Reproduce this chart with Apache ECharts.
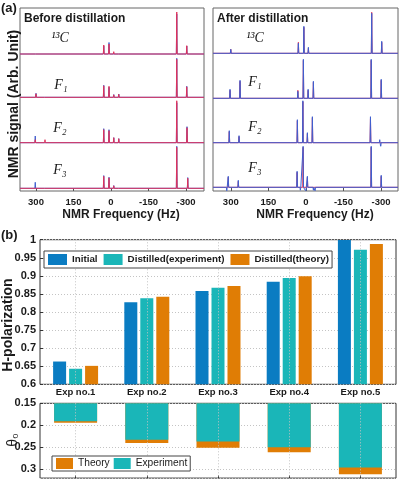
<!DOCTYPE html>
<html><head><meta charset="utf-8">
<script src="https://cdn.jsdelivr.net/npm/echarts@6/dist/echarts.min.js"></script>
<style>html,body{margin:0;padding:0;background:#fff}#c{width:399px;height:479px}</style>
</head><body><div id="c"></div>
<script>
// ================= DATA =================
const freqTicks = [300, 150, 0, -150, -300];
const spectrumLabels = ['¹³C', 'F₁', 'F₂', 'F₃'];

// Before distillation: peak frequencies (Hz), experiment heights, theory heights
const bC_freq = [300, 29, 8, -11, -31, -263, -303];
const bC_exp  = [2, 8, 11.5, 2, 1.5, 40, 8];
const bC_th   = [2, 9, 10, 2.3, 1.7, 42, 8.3];
const bF1_freq = [300, 264, 29, 8, -11, -31, -263, -303];
const bF1_exp  = [4, 1.7, 12, 10, 2.7, 3.3, 39, 11];
const bF1_th   = [3.5, 1.2, 11.5, 11, 2.5, 3, 38, 10.5];
const bF2_freq = [303, 264, 29, 8, -11, -31, -263, -304];
const bF2_exp  = [6.7, 2, 14, 13, 5, 4, 40, 16];
const bF2_th   = [3, 3, 13, 12, 5, 4, 42, 15];
const bF3_freq = [303, 264, 29, 8, -11, -31, -263, -307];
const bF3_exp  = [6, 1, 12.7, 11, 2.7, 0.5, 42, 10.7];
const bF3_th   = [2, 1.7, 12, 10.5, 2.5, 0.5, 41, 10];

// After distillation
const aC_freq = [300, 30, 8, -10, -30, -263, -303];
const aC_exp  = [4, 10, 27, 6, -2, 40, 12];
const aC_th   = [4, 11, 26, 5, 0, 41, 11];
const aF1_freq = [303, 263, 32, 10, -9, -30, -261, -301];
const aF1_exp  = [9, 18, 7, 39, 9, 17, 39, 19];
const aF1_th   = [8, 17, 8, 38, 8, 16, 38, 18];
const aF2_freq = [306, 267, 34, 12, -6, -26, -258, -295, -299];
const aF2_exp  = [12, 7, 23, 42, 10, 26, 26, 3, -5];
const aF2_th   = [11, 6, 22, 41, 9, 25, 24, 0, 0];
const aF3_freq = [316, 310, 270, 35, 22, 11, 0, -6, -30, -37, -261, -301];
const aF3_exp  = [-4, 11, 7, 16, -3, 41, -4, 11, -3, -4, 41, 12];
const aF3_th   = [0, 10, 6, 15, 0, 40, 0, 10, 0, 0, 40, 11];

// Panel (b)
const expNames = ['Exp no.1', 'Exp no.2', 'Exp no.3', 'Exp no.4', 'Exp no.5'];
const initialPol = [0.663, 0.827, 0.858, 0.884, 0.999];
const distExpPol = [0.643, 0.838, 0.867, 0.894, 0.972];
const distThPol  = [0.651, 0.842, 0.872, 0.899, 0.988];
const thetaTheory = [0.194, 0.240, 0.251, 0.261, 0.311];
const thetaExp    = [0.191, 0.2326, 0.237, 0.250, 0.296];

// ================= STYLE / LAYOUT =================
const FONT = '"Liberation Sans", Arial, Helvetica, sans-serif';
const SERIF = '"Liberation Serif", "DejaVu Serif", serif';
const BLUE = '#0a7cc2', TEAL = '#1ab6b8', ORANGE = '#e07d05';
const RED_LINE = '#e0325a', BLUE_LINE = '#3f5fcf';
const TXT = '#1a1a1a';
const GRIDLINE = { color: '#c4c4c4', type: [1, 2], width: 1 };

const boxes = [
  { left: 20, width: 184, top: 8, height: 183, fMin: -372, fMax: 364,
    baselines: [54, 97.3, 142.7, 188.3],
    spectra: [[bC_freq, bC_exp, bC_th], [bF1_freq, bF1_exp, bF1_th], [bF2_freq, bF2_exp, bF2_th], [bF3_freq, bF3_exp, bF3_th]],
    redOnTop: true },
  { left: 213, width: 185, top: 8, height: 183, fMin: -368, fMax: 371,
    baselines: [53.3, 98.3, 142.7, 187.3],
    spectra: [[aC_freq, aC_exp, aC_th], [aF1_freq, aF1_exp, aF1_th], [aF2_freq, aF2_exp, aF2_th], [aF3_freq, aF3_exp, aF3_th]],
    redOnTop: false }
];

function spectrumLine(freqs, heights, fMax, fMin) {
  const pts = [[fMax, 0]];
  const idx = freqs.map((f, i) => i).sort((a, b) => freqs[b] - freqs[a]);
  for (const i of idx) {
    const f = freqs[i], h = heights[i];
    if (!h) continue;
    pts.push([f + 1.6, 0], [f, h], [f - 1.6, 0]);
  }
  pts.push([fMin, 0]);
  return pts;
}

const grid = [], xAxis = [], yAxis = [], series = [];

boxes.forEach(b => {
  const gi = grid.length;
  grid.push({ left: b.left, width: b.width, top: b.top, height: b.height, show: true, borderColor: '#666', borderWidth: 1, backgroundColor: 'transparent' });
  xAxis.push({ gridIndex: gi, type: 'value', inverse: true, min: b.fMin, max: b.fMax,
    axisLine: { show: false }, splitLine: { show: false },
    axisTick: { show: true, inside: true, length: 3, customValues: freqTicks, lineStyle: { color: '#555' } },
    axisLabel: { customValues: freqTicks, margin: 6, fontFamily: FONT, fontWeight: 'bold', fontSize: 9.5, color: TXT } });
  yAxis.push({ gridIndex: gi, type: 'value', show: false, min: 0, max: 1 });
  b.spectra.forEach((s, k) => {
    const g = grid.length;
    grid.push({ left: b.left, width: b.width, top: b.baselines[k] - 42, height: 45 });
    xAxis.push({ gridIndex: g, type: 'value', inverse: true, min: b.fMin, max: b.fMax, show: false });
    yAxis.push({ gridIndex: g, type: 'value', min: -3, max: 42, show: false });
    const blue = { type: 'line', xAxisIndex: g, yAxisIndex: g, showSymbol: false, symbol: 'none', silent: true,
      data: spectrumLine(s[0], s[1], b.fMax, b.fMin), lineStyle: { color: BLUE_LINE, width: 1 } };
    const red = { type: 'line', xAxisIndex: g, yAxisIndex: g, showSymbol: false, symbol: 'none', silent: true,
      data: spectrumLine(s[0], s[2], b.fMax, b.fMin), lineStyle: { color: RED_LINE, width: 1 } };
    if (b.redOnTop) series.push(blue, red); else series.push(red, blue);
  });
});

function vGridSeries(axisIdx) {
  return { type: 'line', xAxisIndex: axisIdx, yAxisIndex: axisIdx, data: [], z: 1, silent: true,
    markLine: { silent: true, symbol: ['none', 'none'], label: { show: false }, lineStyle: GRIDLINE,
      data: expNames.map(n => ({ xAxis: n })) } };
}

// Panel (b) top bar chart
const gTop = grid.length;
grid.push({ left: 40, right: 3, top: 239.7, height: 144.6, show: true, borderColor: '#333', borderWidth: 1 });
xAxis.push({ gridIndex: gTop, type: 'category', data: expNames, position: 'bottom',
  axisLine: { show: false },
  axisTick: { show: true, inside: true, alignWithLabel: true, length: 3, lineStyle: { color: '#333' } },
  axisLabel: { margin: 3, fontFamily: FONT, fontWeight: 'bold', fontSize: 9.5, color: TXT },
  splitLine: { show: false } });
yAxis.push({ gridIndex: gTop, type: 'value', min: 0.6, max: 1, interval: 0.05,
  axisLine: { show: false },
  axisTick: { show: true, inside: true, length: 3, lineStyle: { color: '#333' } },
  axisLabel: { margin: 4, fontFamily: FONT, fontWeight: 'bold', fontSize: 11, color: TXT },
  splitLine: { show: true, lineStyle: GRIDLINE } });
const topIdx = xAxis.length - 1;
series.push(
  vGridSeries(topIdx),
  { type: 'bar', name: 'Initial', xAxisIndex: topIdx, yAxisIndex: topIdx, data: initialPol, barWidth: 13, barGap: '23%', z: 3, itemStyle: { color: BLUE } },
  { type: 'bar', name: 'Distilled(experiment)', xAxisIndex: topIdx, yAxisIndex: topIdx, data: distExpPol, barWidth: 13, barGap: '23%', z: 3, itemStyle: { color: TEAL } },
  { type: 'bar', name: 'Distilled(theory)', xAxisIndex: topIdx, yAxisIndex: topIdx, data: distThPol, barWidth: 13, barGap: '23%', z: 3, itemStyle: { color: ORANGE } }
);

// Panel (b) bottom theta chart
const gBot = grid.length;
grid.push({ left: 40, right: 3, top: 403.3, height: 74.8, show: true, borderColor: '#333', borderWidth: 1 });
xAxis.push({ gridIndex: gBot, type: 'category', data: expNames, position: 'bottom',
  axisLine: { show: false },
  axisTick: { show: true, inside: true, alignWithLabel: true, length: 3, lineStyle: { color: '#333' } },
  axisLabel: { show: false },
  splitLine: { show: false } });
yAxis.push({ gridIndex: gBot, type: 'value', inverse: true, min: 0.15, max: 0.32, interval: 0.05,
  axisLine: { show: false },
  axisTick: { show: true, inside: true, length: 3, lineStyle: { color: '#333' } },
  axisLabel: { margin: 4, showMaxLabel: false, fontFamily: FONT, fontWeight: 'bold', fontSize: 11, color: TXT },
  splitLine: { show: true, lineStyle: GRIDLINE } });
const botIdx = xAxis.length - 1;
series.push(
  vGridSeries(botIdx),
  { type: 'bar', name: 'Theory', xAxisIndex: botIdx, yAxisIndex: botIdx, data: thetaTheory, barWidth: 43, barGap: '-100%', z: 3, itemStyle: { color: ORANGE } },
  { type: 'bar', name: 'Experiment', xAxisIndex: botIdx, yAxisIndex: botIdx, data: thetaExp, barWidth: 43, barGap: '-100%', z: 3, itemStyle: { color: TEAL } }
);

// ================= TEXT GRAPHICS =================
const graphic = [];
function txt(text, x, y, opt) {
  graphic.push(Object.assign({ type: 'text', x: x, y: y, silent: true, z: 100,
    style: Object.assign({ text: text, fill: TXT, fontFamily: FONT, fontSize: 12, fontWeight: 'bold', align: 'center', verticalAlign: 'middle' }, opt.style || {}) },
    opt.rotation !== undefined ? { rotation: opt.rotation } : {}));
}
txt('(a)', 1, 8, { style: { fontSize: 13, align: 'left' } });
txt('(b)', 1, 235, { style: { fontSize: 13, align: 'left' } });
txt('Before distillation', 24, 19, { style: { fontSize: 12, align: 'left' } });
txt('After distillation', 217, 19, { style: { fontSize: 12, align: 'left' } });
txt('NMR signal (Arb. Unit)', 14, 104, { rotation: Math.PI / 2, style: { fontSize: 14 } });
txt('NMR Frequency (Hz)', 121, 215, { style: { fontSize: 12 } });
txt('NMR Frequency (Hz)', 315, 215, { style: { fontSize: 12 } });
txt('H-polarization', 8, 325, { rotation: Math.PI / 2, style: { fontSize: 14 } });
txt('θ₀', 13, 440, { rotation: Math.PI / 2, style: { fontSize: 14, fontWeight: 'normal' } });
const labPosL = [[60, 38], [61, 85], [60, 128], [60, 170]];
const labPosR = [[255, 38], [255, 82], [255, 127], [255, 168]];
spectrumLabels.forEach((l, i) => {
  txt(l, labPosL[i][0], labPosL[i][1], { style: { fontFamily: SERIF, fontStyle: 'italic', fontWeight: 'normal', fontSize: 14 } });
  txt(l, labPosR[i][0], labPosR[i][1], { style: { fontFamily: SERIF, fontStyle: 'italic', fontWeight: 'normal', fontSize: 14 } });
});

// ================= OPTION =================
const option = {
  backgroundColor: '#fff',
  animation: false,
  grid, xAxis, yAxis, series, graphic,
  legend: [
    { data: ['Initial', 'Distilled(experiment)', 'Distilled(theory)'], left: 44, top: 251, icon: 'rect',
      itemWidth: 19, itemHeight: 11, itemGap: 6, padding: [3, 3, 3, 4], borderColor: '#444', borderWidth: 1, borderRadius: 0,
      backgroundColor: '#fff', selectedMode: false, z: 10,
      textStyle: { fontFamily: FONT, fontWeight: 'bold', fontSize: 9.8, color: TXT } },
    { data: ['Theory', 'Experiment'], left: 52, top: 456, icon: 'rect',
      itemWidth: 17, itemHeight: 11, itemGap: 4, padding: [2, 3, 2, 4], borderColor: '#444', borderWidth: 1, borderRadius: 0,
      backgroundColor: '#fff', selectedMode: false, z: 10,
      textStyle: { fontFamily: FONT, fontSize: 10.2, color: TXT } }
  ]
};
const chart = echarts.init(document.getElementById('c'), null, { renderer: 'canvas', width: 399, height: 479 });
chart.setOption(option);
</script></body></html>
